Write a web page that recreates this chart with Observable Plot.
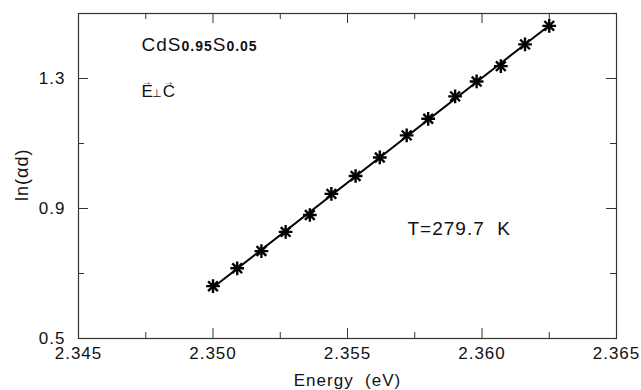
<!DOCTYPE html>
<html>
<head>
<meta charset="utf-8">
<script src="https://cdn.jsdelivr.net/npm/d3@7"></script>
<script src="https://cdn.jsdelivr.net/npm/@observablehq/plot@0.6"></script>
<style>
  html, body { margin: 0; padding: 0; background: #fff; }
  svg text { letter-spacing: 1px; }
</style>
</head>
<body>
<div id="chart"></div>
<script>
// Data
const energy = [2.3500, 2.3509, 2.3518, 2.3527, 2.3536, 2.3544, 2.3553, 2.3562, 2.3572, 2.3580, 2.3590, 2.3598, 2.3607, 2.3616, 2.3625];
const lnAlphaD = [0.661, 0.716, 0.769, 0.828, 0.880, 0.945, 1.000, 1.057, 1.125, 1.176, 1.245, 1.291, 1.338, 1.405, 1.462];

const xTicks = [2.345, 2.350, 2.355, 2.360, 2.365];
const xMinorTicks = [2.3475, 2.3525, 2.3575, 2.3625];
const yTicks = [0.5, 0.9, 1.3];
const yMinorTicks = [0.7, 1.1];

const xLabel = "Energy\u00a0 (eV)";
const yLabel = "ln(\u03b1d)";
const formulaParts = ["CdS", "0.95", "S", "0.05"];
const polarizationParts = ["E", "\u22A5", "C"];
const tempLabel = "T=279.7\u00a0 K";

const data = energy.map((e, i) => ({energy: e, ln: lnAlphaD[i]}));

const W = 641, H = 390;
const mL = 78, mR = 25, mT = 13, mB = 52;
const innerW = W - mL - mR, innerH = H - mT - mB;
const ink = "#111";

const formula = formulaParts.join("");
const polarization = polarizationParts.join("");

const chart = Plot.plot({
  width: W, height: H,
  marginLeft: mL, marginRight: mR, marginTop: mT, marginBottom: mB,
  x: {domain: [2.345, 2.365]},
  y: {domain: [0.5, 1.5]},
  style: {fontFamily: "'Liberation Sans', Arial, sans-serif", fontSize: "17px", color: ink, background: "#fff"},
  marks: [
    Plot.frame({stroke: "#333", strokeWidth: 1.2}),
    // inward ticks: bottom & top
    Plot.tickX(xTicks, {x: d => d, insetTop: innerH - 10, stroke: "#333"}),
    Plot.tickX(xTicks, {x: d => d, insetBottom: innerH - 10, stroke: "#333"}),
    Plot.tickX(xMinorTicks, {x: d => d, insetTop: innerH - 6, stroke: "#333"}),
    Plot.tickX(xMinorTicks, {x: d => d, insetBottom: innerH - 6, stroke: "#333"}),
    // inward ticks: left & right
    Plot.tickY(yTicks, {y: d => d, insetRight: innerW - 10, stroke: "#333"}),
    Plot.tickY(yTicks, {y: d => d, insetLeft: innerW - 10, stroke: "#333"}),
    Plot.tickY(yMinorTicks, {y: d => d, insetRight: innerW - 6, stroke: "#333"}),
    Plot.tickY(yMinorTicks, {y: d => d, insetLeft: innerW - 6, stroke: "#333"}),
    Plot.axisX({ticks: xTicks, tickSize: 0, tickPadding: 8, tickFormat: d3.format(".3f"),
      label: xLabel, labelAnchor: "center", labelOffset: 47, labelArrow: "none", fontSize: 17}),
    Plot.axisY({ticks: yTicks, tickSize: 0, tickPadding: 13, tickFormat: d3.format(".1f"), label: null, fontSize: 17}),
    Plot.linearRegressionY(data, {x: "energy", y: "ln", ci: 0, stroke: "#000", strokeWidth: 2}),
    Plot.dot(data, {x: "energy", y: "ln", symbol: "plus", r: 4.5, stroke: "#000", strokeWidth: 2.4}),
    Plot.dot(data, {x: "energy", y: "ln", symbol: "times", r: 4.5, stroke: "#000", strokeWidth: 2.4}),
    Plot.text([yLabel], {frameAnchor: "left", rotate: -90, dx: -56, dy: 25, fontSize: 18, fill: ink}),
    Plot.text([formula], {frameAnchor: "top-left", dx: 63, dy: 37, textAnchor: "start", lineAnchor: "bottom", fontSize: 19, fill: ink}),
    Plot.text([polarization], {frameAnchor: "top-left", dx: 63, dy: 83, textAnchor: "start", lineAnchor: "bottom", fontSize: 17, fill: ink}),
    Plot.text([tempLabel], {frameAnchor: "top-left", dx: 329, dy: 221, textAnchor: "start", lineAnchor: "bottom", fontSize: 19, fill: ink})
  ]
});

const NS = "http://www.w3.org/2000/svg";
function span(t, txt, attrs = {}) {
  const ts = document.createElementNS(NS, "tspan");
  ts.textContent = txt;
  for (const k in attrs) ts.setAttribute(k, attrs[k]);
  t.appendChild(ts);
}
// rich text: subscripts, vector arrows and small perpendicular sign
chart.querySelectorAll("text").forEach(t => {
  if (t.textContent === formula) {
    t.textContent = "";
    formulaParts.forEach((p, i) => span(t, p, i % 2 === 1 ? {"font-size": 14, "font-weight": "bold"} : {}));
  } else if (t.textContent === polarization) {
    t.textContent = "";
    t.style.letterSpacing = "0px";
    span(t, polarizationParts[0]);
    span(t, "\u2192", {"font-size": 10, dx: -11, dy: -12});
    span(t, polarizationParts[1], {"font-size": 11, dx: 0, dy: 12});
    span(t, polarizationParts[2], {dx: 1});
    span(t, "\u2192", {"font-size": 10, dx: -11.5, dy: -12});
  }
});

document.getElementById("chart").appendChild(chart);
</script>
</body>
</html>
